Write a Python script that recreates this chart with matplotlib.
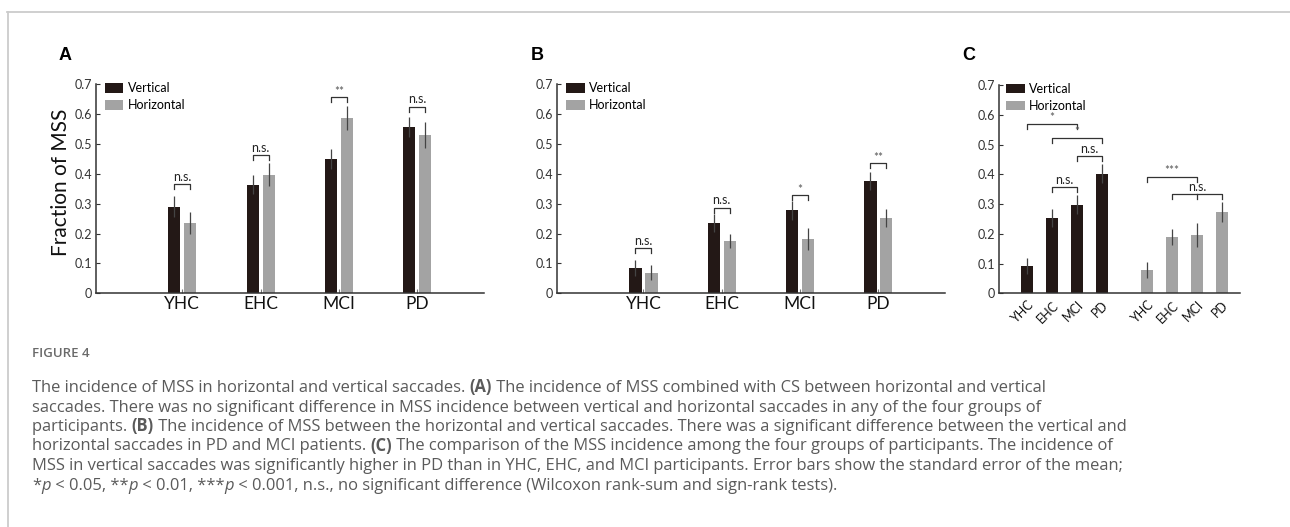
import matplotlib
matplotlib.use('Agg')
import matplotlib.pyplot as plt
from matplotlib.patches import Patch
from matplotlib.lines import Line2D
import numpy as np

groups = ['YHC', 'EHC', 'MCI', 'PD']

# panel A: MSS combined with CS
a_vert = [0.290, 0.364, 0.449, 0.557]
a_vert_err = [0.035, 0.033, 0.033, 0.033]
a_horz = [0.236, 0.397, 0.588, 0.530]
a_horz_err = [0.036, 0.038, 0.040, 0.045]
a_sig = ['n.s.', 'n.s.', '**', 'n.s.']
a_sig_y = [0.366, 0.462, 0.658, 0.625]

# panel B: MSS only
b_vert = [0.085, 0.236, 0.278, 0.376]
b_vert_err = [0.026, 0.030, 0.032, 0.031]
b_horz = [0.069, 0.175, 0.181, 0.251]
b_horz_err = [0.026, 0.024, 0.037, 0.030]
b_sig = ['n.s.', 'n.s.', '*', '**']
b_sig_y = [0.151, 0.287, 0.329, 0.435]

# panel C: groups compared within each direction
c_vert = [0.092, 0.253, 0.298, 0.402]
c_vert_err = [0.026, 0.031, 0.031, 0.033]
c_horz = [0.078, 0.189, 0.196, 0.273]
c_horz_err = [0.026, 0.026, 0.039, 0.033]
# (first bar, last bar, middle bar, height, label) - bars 0-3 vertical, 4-7 horizontal
c_sig = [(0, 2, None, 0.570, '*'),
         (1, 3, None, 0.523, '*'),
         (2, 3, None, 0.460, 'n.s.'),
         (1, 2, None, 0.357, 'n.s.'),
         (4, 6, None, 0.392, '***'),
         (5, 7, 6, 0.333, 'n.s.')]

W, H = 1290, 527
DARK = '#231816'
GRAY = '#a3a3a3'
AXC = '#333333'
CHART_FONT = ['Lato', 'DejaVu Sans']

plt.rcParams['font.family'] = CHART_FONT

fig = plt.figure(figsize=(W / 100, H / 100), dpi=100)


def px_axes(left, right, top, bottom):
    return fig.add_axes([left / W, 1 - bottom / H, (right - left) / W, (bottom - top) / H])


def style_axes(ax):
    ax.set_ylim(0, 0.7)
    ax.set_yticks(np.arange(0, 0.71, 0.1))
    ax.set_yticklabels(['0'] + ['%.1f' % v for v in np.arange(0.1, 0.71, 0.1)])
    for s in ['top', 'right']:
        ax.spines[s].set_visible(False)
    for s in ['left', 'bottom']:
        ax.spines[s].set_color(AXC)
        ax.spines[s].set_linewidth(1.1)
    ax.tick_params(axis='y', direction='in', length=3, width=0.8, colors=AXC,
                   labelsize=9, pad=3)


def bracket(ax, x1, x2, y, label, mid=None, tick=0.017):
    ax.plot([x1, x1, x2, x2], [y - tick, y, y, y - tick], color='#333333', lw=0.9)
    if mid is not None:
        ax.plot([mid, mid], [y, y - tick], color='#333333', lw=0.9)
    if label == 'n.s.':
        ax.text((x1 + x2) / 2, y + 0.004, label, ha='center', va='bottom',
                fontsize=9, color='#222222')
    else:
        ax.text((x1 + x2) / 2, y + 0.001, label, ha='center', va='bottom',
                fontsize=8.5, color='#555555')


def legend(ax, x, y):
    handles = [Patch(facecolor=DARK, edgecolor='none'), Patch(facecolor=GRAY, edgecolor='none')]
    ax.legend(handles, ['Vertical', 'Horizontal'], loc='upper left', bbox_to_anchor=(x, y),
              frameon=False, fontsize=9, handlelength=1.5, handleheight=0.8,
              handletextpad=0.35, labelspacing=0.4, borderpad=0, borderaxespad=0)


def paired_panel(ax, vert, vert_err, horz, horz_err, sig, sig_y):
    x = np.arange(1, len(groups) + 1)
    w = 0.155
    off = 0.102
    ax.bar(x - off, vert, w, color=DARK)
    ax.bar(x + off, horz, w, color=GRAY)
    ax.errorbar(x - off, vert, yerr=vert_err, fmt='none', ecolor='#444444', elinewidth=0.9, capsize=0)
    ax.errorbar(x + off, horz, yerr=horz_err, fmt='none', ecolor='#444444', elinewidth=0.9, capsize=0)
    for i in range(len(groups)):
        bracket(ax, x[i] - off, x[i] + off, sig_y[i], sig[i])
    ax.set_xlim(-0.1, 4.85)
    style_axes(ax)
    ax.set_xticks(x)
    ax.set_xticklabels(groups, fontsize=12.5, color='#111111')
    ax.tick_params(axis='x', direction='in', length=3, width=0.8, colors='#777777', pad=2)
    for t in ax.get_xticklabels():
        t.set_color('#111111')
    legend(ax, 0.022, 1.01)


# panel A
axA = px_axes(96, 484, 84.3, 293.3)
paired_panel(axA, a_vert, a_vert_err, a_horz, a_horz_err, a_sig, a_sig_y)
axA.set_ylabel('Fraction of MSS', fontsize=15, color='#111111')
axA.yaxis.set_label_coords(-0.065, 0.53)

# panel B
axB = px_axes(557.3, 945, 84.3, 293.3)
paired_panel(axB, b_vert, b_vert_err, b_horz, b_horz_err, b_sig, b_sig_y)

# panel C
axC = px_axes(999, 1240, 85, 293.3)
xv = np.array([1, 2, 3, 4])
xh = np.array([5.8, 6.8, 7.8, 8.8])
xs = np.concatenate([xv, xh])
axC.bar(xv, c_vert, 0.5, color=DARK)
axC.bar(xh, c_horz, 0.5, color=GRAY)
axC.errorbar(xv, c_vert, yerr=c_vert_err, fmt='none', ecolor='#444444', elinewidth=0.9, capsize=0)
axC.errorbar(xh, c_horz, yerr=c_horz_err, fmt='none', ecolor='#444444', elinewidth=0.9, capsize=0)
for i1, i2, im, y, lab in c_sig:
    bracket(axC, xs[i1], xs[i2], y, lab, mid=None if im is None else xs[im])
axC.set_xlim(-0.12, 9.51)
style_axes(axC)
axC.set_xticks(xs)
axC.set_xticklabels(groups + groups, rotation=45, ha='right', rotation_mode='anchor',
                    fontsize=9, color='#111111')
axC.tick_params(axis='x', length=0, pad=4)
legend(axC, 0.03, 1.01)

# panel letters
for lab, xp in [('A', 65), ('B', 537), ('C', 969)]:
    fig.text(xp / W, 1 - 55 / H, lab, ha='center', va='center', fontsize=13,
             fontweight='bold', family=['Liberation Sans', 'DejaVu Sans'], color='black')

# frame lines
fig.add_artist(Line2D([7 / W, 1], [1 - 11.5 / H, 1 - 11.5 / H], transform=fig.transFigure,
                      color='#cccccc', lw=1.3))
fig.add_artist(Line2D([7.5 / W, 7.5 / W], [0, 1 - 11.5 / H], transform=fig.transFigure,
                      color='#cccccc', lw=1.3))

# caption
CAP = dict(family=['Open Sans', 'DejaVu Sans'], fontsize=11.9, color='#5a5a5a')
fig.text(32 / W, 1 - 357 / H, 'FIGURE 4', ha='left', va='baseline', fontsize=9.5,
         fontweight='semibold', family=['Open Sans', 'DejaVu Sans'], color='#6a6a6a')

renderer = fig.canvas.get_renderer()


def seg_width(s, kw):
    t = fig.text(0, 0, '|' + s + '|', **kw)
    t2 = fig.text(0, 0, '||', **kw)
    w = t.get_window_extent(renderer).width - t2.get_window_extent(renderer).width
    t.remove()
    t2.remove()
    return w


def rich_line(y, parts, x=32):
    for s, extra in parts:
        kw = dict(CAP)
        kw.update(extra)
        fig.text(x / W, 1 - y / H, s, ha='left', va='baseline', **kw)
        x += seg_width(s, kw)


B = {'fontweight': 'bold'}
I = {'style': 'italic'}
N = {}
cap_lines = [
    [('The incidence of MSS in horizontal and vertical saccades. ', N), ('(A)', B),
     (' The incidence of MSS combined with CS between horizontal and vertical', N)],
    [('saccades. There was no significant difference in MSS incidence between vertical and '
      'horizontal saccades in any of the four groups of', N)],
    [('participants. ', N), ('(B)', B),
     (' The incidence of MSS between the horizontal and vertical saccades. There was a '
      'significant difference between the vertical and', N)],
    [('horizontal saccades in PD and MCI patients. ', N), ('(C)', B),
     (' The comparison of the MSS incidence among the four groups of participants. '
      'The incidence of', N)],
    [('MSS in vertical saccades was significantly higher in PD than in YHC, EHC, and MCI '
      'participants. Error bars show the standard error of the mean;', N)],
    [('*', N), ('p', I), (' < 0.05, **', N), ('p', I), (' < 0.01, ***', N), ('p', I),
     (' < 0.001, n.s., no significant difference (Wilcoxon rank-sum and sign-rank tests).', N)],
]
cap_y = [392, 411.5, 431, 450.5, 470, 489.5]
for y, parts in zip(cap_y, cap_lines):
    rich_line(y, parts)

fig.savefig('out.png', dpi=100)
